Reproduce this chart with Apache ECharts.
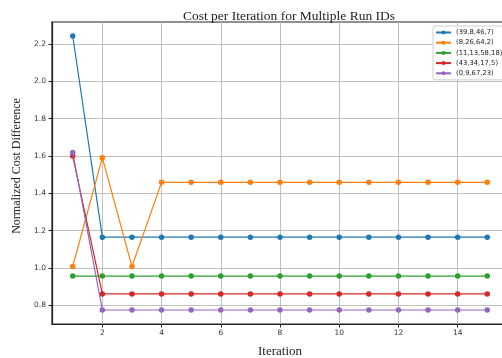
<!DOCTYPE html>
<html>
<head>
<meta charset="utf-8">
<script src="https://cdn.jsdelivr.net/npm/echarts@6/dist/echarts.min.js"></script>
<style>
  html, body { margin: 0; padding: 0; background: #fff; }
  #chart { width: 502px; height: 358px; }
</style>
</head>
<body>
<div id="chart"></div>
<script>
// Iterations 1..15
const iterations = [1, 2, 3, 4, 5, 6, 7, 8, 9, 10, 11, 12, 13, 14, 15];

// Run IDs shown in the legend
const runIds = ['(39,8,46,7)', '(8,26,64,2)', '(11,13,58,18)', '(43,34,17,5)', '(0,9,67,23)'];

// Normalized cost difference per iteration for each run
const run1 = [2.243, 1.165, 1.165, 1.165, 1.165, 1.165, 1.165, 1.165, 1.165, 1.165, 1.165, 1.165, 1.165, 1.165, 1.165];
const run2 = [1.008, 1.591, 1.008, 1.459, 1.459, 1.459, 1.459, 1.459, 1.459, 1.459, 1.459, 1.459, 1.459, 1.459, 1.459];
const run3 = [0.957, 0.957, 0.957, 0.957, 0.957, 0.957, 0.957, 0.957, 0.957, 0.957, 0.957, 0.957, 0.957, 0.957, 0.957];
const run4 = [1.600, 0.861, 0.861, 0.861, 0.861, 0.861, 0.861, 0.861, 0.861, 0.861, 0.861, 0.861, 0.861, 0.861, 0.861];
const run5 = [1.619, 0.775, 0.775, 0.775, 0.775, 0.775, 0.775, 0.775, 0.775, 0.775, 0.775, 0.775, 0.775, 0.775, 0.775];

// Tick positions
const xTicks = [2, 4, 6, 8, 10, 12, 14];
const yTicks = [0.8, 1.0, 1.2, 1.4, 1.6, 1.8, 2.0, 2.2];

const colors = ['#1f77b4', '#ff7f0e', '#2ca02c', '#d62728', '#9467bd'];
const runs = [run1, run2, run3, run4, run5];

const chart = echarts.init(document.getElementById('chart'), null, { renderer: 'canvas' });

const gridLine = { show: true, lineStyle: { color: '#b0b0b0', width: 0.8 } };

chart.setOption({
  animation: false,
  backgroundColor: '#ffffff',
  title: {
    text: 'Cost per Iteration for Multiple Run IDs',
    left: 284, textAlign: 'center',
    top: 4,
    textStyle: { fontFamily: 'Liberation Serif', fontWeight: 'normal', fontSize: 13.5, color: '#222' }
  },
  legend: {
    data: runIds,
    orient: 'vertical',
    left: 433, top: 26,
    itemWidth: 15, itemHeight: 5, itemGap: 3.2,
    padding: [3, 6, 3, 2],
    borderColor: '#d0d0d0', borderWidth: 1, borderRadius: 2,
    backgroundColor: '#ffffff',
    textStyle: { fontFamily: 'DejaVu Sans', fontSize: 6.8, color: '#222', padding: [0, 0, 0, 0] }
  },
  grid: {
    left: 52, top: 22, right: -6, bottom: 34,
    containLabel: false, outerBoundsMode: 'none',
    show: true, borderColor: '#222', borderWidth: 1.2
  },
  xAxis: {
    type: 'value',
    min: 0.3, max: 15.7,
    name: 'Iteration', nameLocation: 'middle', nameGap: 21,
    nameTextStyle: { fontFamily: 'Liberation Serif', fontSize: 13, color: '#222' },
    axisLine: { show: true, onZero: false, lineStyle: { color: '#222', width: 1.2 } },
    axisTick: { show: true, customValues: xTicks, length: 3.5, lineStyle: { color: '#222' } },
    axisLabel: { customValues: xTicks, fontFamily: 'DejaVu Sans', fontSize: 7.5, color: '#333', margin: 5 },
    splitLine: Object.assign({ customValues: xTicks }, gridLine)
  },
  yAxis: {
    type: 'value',
    min: 0.7, max: 2.318,
    name: 'Normalized Cost Difference', nameLocation: 'middle', nameGap: 24,
    nameTextStyle: { fontFamily: 'Liberation Serif', fontSize: 12, color: '#222', padding: [0, 0, 0, 14] },
    axisLine: { show: true, onZero: false, lineStyle: { color: '#222', width: 1.2 } },
    axisTick: { show: true, customValues: yTicks, length: 3.5, lineStyle: { color: '#222' } },
    axisLabel: {
      customValues: yTicks, fontFamily: 'DejaVu Sans', fontSize: 7.5, color: '#333', margin: 6,
      formatter: v => v.toFixed(1)
    },
    splitLine: Object.assign({ customValues: yTicks }, gridLine)
  },
  series: runs.map((vals, i) => ({
    name: runIds[i],
    type: 'line',
    data: iterations.map((it, k) => [it, vals[k]]),
    symbol: 'circle',
    symbolSize: 5.5,
    color: colors[i],
    lineStyle: { width: 1.2, color: colors[i] },
    itemStyle: { color: colors[i] },
    z: 2 + i
  }))
});
</script>
</body>
</html>
